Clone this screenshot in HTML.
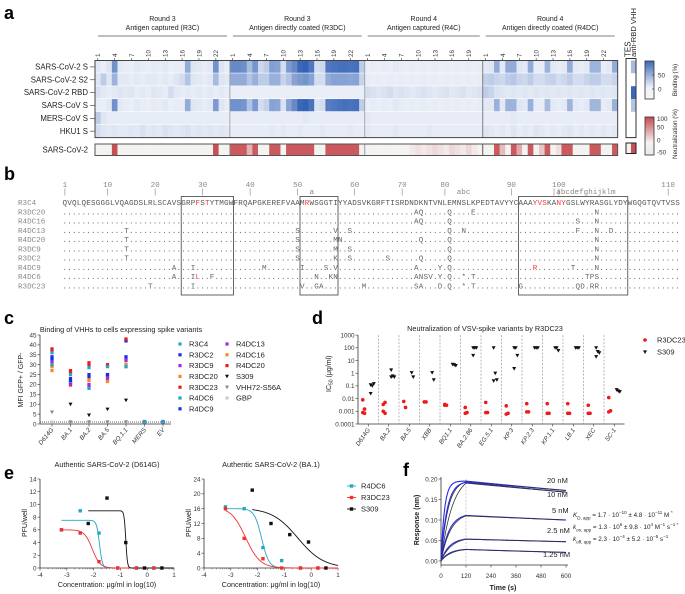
<!DOCTYPE html>
<html><head><meta charset="utf-8">
<style>
html,body{margin:0;padding:0;background:#fff;}
svg{display:block;font-family:"Liberation Sans",Arial,sans-serif;}
.pl{font-weight:bold;font-size:18px;fill:#000;}
.t7{font-size:7px;fill:#222;}
.t6{font-size:6.3px;fill:#333;}
.mono{font-family:"Liberation Mono",monospace;font-size:7.6px;fill:#666;}
#kin sup,#kin sub{line-height:0;font-size:4.5px;}
</style></head>
<body>
<svg id="fig" width="685" height="594" viewBox="0 0 685 594">
<text class="pl" x="4" y="19">a</text>
<text class="pl" x="4" y="180">b</text>
<text class="pl" x="4" y="324">c</text>
<text class="pl" x="312" y="324">d</text>
<text class="pl" x="4" y="479">e</text>
<text class="pl" x="403" y="476">f</text>
<g id="ga"></g>
<g id="gb"></g>
<g id="gc"></g>
<g id="gd"></g>
<g id="ge"></g>
<g id="gf"></g>
</svg>
<script>
// ===== Panel a data =====
const hmRows=["SARS-CoV-2 S","SARS-CoV-2 S2","SARS-CoV-2 RBD","SARS-CoV S","MERS-CoV S","HKU1 S"];
const hmGroups=["R3C","R3DC","R4C","R4DC"];
const hmGroupTitle1=["Round 3","Round 3","Round 4","Round 4"];
const hmGroupTitle2=["Antigen captured (R3C)","Antigen directly coated (R3DC)","Antigen captured (R4C)","Antigen directly coated (R4DC)"];
const hmGroupSize=[24,24,21,24];
const bindS=[8,5,10,60,8,6,5,8,6,5,7,6,8,5,6,6,45,10,8,6,8,60,10,6,
 65,65,62,35,58,18,25,52,50,15,55,65,85,88,75,15,18,75,78,80,80,78,80,25,
 5,6,5,6,5,8,6,5,6,5,6,5,6,5,6,5,6,5,6,5,6,
 8,10,45,8,45,45,10,8,45,6,6,40,8,6,8,45,8,6,8,40,40,6,8,45];
const bindS2=[10,25,10,40,8,8,6,8,6,8,8,6,8,6,10,15,30,10,8,6,8,35,10,8,
 45,45,45,30,42,25,25,42,42,20,30,50,55,58,50,15,15,45,50,50,50,48,50,20,
 6,5,6,5,6,5,6,5,6,5,6,5,6,5,6,5,6,5,6,5,6,
 22,25,20,18,25,28,20,18,25,15,15,20,22,15,18,25,15,15,20,25,25,15,15,20];
const bindRBD=[12,8,6,8,10,8,10,6,8,6,10,8,6,15,8,6,8,6,8,6,8,6,8,6,
 5,5,5,5,5,5,5,5,5,5,5,5,5,5,5,5,5,5,5,5,5,5,5,5,
 15,12,10,12,15,10,12,10,8,10,12,10,8,10,12,8,10,12,8,10,12,
 25,20,12,10,8,10,8,10,8,10,8,10,8,10,8,10,8,10,8,10,8,10,8,10];
const bindSC=[6,5,8,60,8,6,5,8,6,5,7,6,8,5,6,6,45,10,8,6,8,55,10,6,
 60,60,58,30,55,15,22,50,48,12,50,65,85,88,78,12,15,72,75,78,80,78,80,25,
 5,6,5,6,5,8,6,5,6,5,6,5,6,5,6,5,6,5,6,5,6,
 8,8,42,8,40,40,10,8,42,6,6,35,8,6,8,40,8,6,8,38,38,6,8,42];
const bindMERS=[25,10,6,6,6,6,6,6,6,6,6,6,6,6,6,6,6,6,6,6,6,6,6,6,
 6,6,6,6,6,6,6,6,6,6,6,6,6,8,6,6,6,6,6,6,6,6,6,6,
 8,6,6,6,6,6,6,6,6,6,6,6,6,6,6,6,6,6,6,6,6,
 6,6,6,6,6,8,6,6,6,6,6,6,6,6,6,6,6,6,6,6,6,6,6,6];
const bindHKU=[15,10,8,10,8,8,10,8,12,8,10,8,12,10,8,10,12,8,10,8,10,8,10,8,
 6,6,6,6,6,6,6,8,6,8,6,6,8,6,6,6,8,6,6,6,6,8,6,6,
 8,6,6,6,6,8,6,6,6,6,6,8,6,6,6,6,6,6,6,6,6,
 10,8,6,8,6,10,6,8,6,10,8,6,8,6,8,10,6,8,6,8,6,8,6,8];
const hmBind=[bindS,bindS2,bindRBD,bindSC,bindMERS,bindHKU];
const hmNeut=[-10,-10,-10,90,-10,-10,-10,-10,-10,-10,-10,-10,-10,-10,-10,-10,-10,-10,-10,-10,-10,90,-10,-10,
 85,85,85,35,85,-10,-10,85,85,-10,85,85,85,85,85,-10,-10,85,85,85,85,85,85,-10,
 -10,-5,0,-5,-5,0,-5,-5,5,10,5,10,15,10,5,15,10,5,15,5,-5,
 -10,-10,85,30,-10,85,40,-10,85,-10,25,85,-10,10,85,85,-10,-10,-10,85,85,-10,-10,85];
const tesBind=[0,0,0,0,0,0];
const rbdVhhBind=[35,5,85,30,5,5];
const tesNeut=[-5];
const rbdVhhNeut=[90];

// ===== Panel b data =====
const seqRef="QVQLQESGGGLVQAGDSLRLSCAVSGRPFSTYTMGWFRQAPGKEREFVAAMRWSGGTIYYADSVKGRFTISRDNDKNTVNLEMNSLKPEDTAVYYCAAAYVSKANYGSLWYRASGLYDYWGQGTQVTVSS";
const seqNames=["R3C4","R3DC20","R4DC16","R4DC13","R4DC20","R3DC9","R3DC2","R4DC9","R4DC6","R3DC23"];
const seqMuts=[
 [],
 [[74,"A"],[75,"Q"],[81,"Q"],[86,"E"],[112,"N"]],
 [[74,"A"],[75,"Q"],[81,"Q"],[108,"S"],[112,"N"]],
 [[13,"T"],[49,"S"],[57,"V"],[60,"S"],[81,"Q"],[84,"N"],[108,"F"],[112,"N"],[115,"D"]],
 [[13,"T"],[49,"S"],[57,"M"],[58,"N"],[75,"Q"],[81,"Q"],[112,"N"]],
 [[13,"T"],[49,"S"],[57,"M"],[60,"S"],[81,"Q"],[112,"N"]],
 [[13,"T"],[49,"S"],[57,"K"],[60,"S"],[68,"S"],[75,"Q"],[81,"Q"],[112,"N"]],
 [[23,"A"],[27,"I"],[42,"M"],[50,"I"],[55,"S"],[57,"V"],[74,"A"],[79,"Y"],[81,"Q"],[99,"R"],[107,"T"],[112,"N"]],
 [[23,"A"],[27,"I"],[28,"L"],[31,"F"],[53,"N"],[56,"K"],[57,"N"],[74,"A"],[75,"N"],[76,"S"],[77,"V"],[79,"Y"],[81,"Q"],[84,"*"],[86,"T"],[110,"T"],[111,"P"],[112,"S"]],
 [[18,"T"],[27,"I"],[50,"V"],[53,"G"],[54,"A"],[63,"M"],[74,"S"],[75,"A"],[79,"D"],[81,"Q"],[84,"*"],[86,"T"],[96,"G"],[108,"Q"],[109,"D"],[111,"R"],[112,"R"]]];
const seqRedRef=[28,30,51,99,100,101,104,105];
const seqRedMut=[[7,99],[8,28]];
const rulerLabels=["1","10","20","30","40","50","60","70","80","90","100","110"];
const rulerPos=[0,9,19,29,39,49,61,71,80,94,104,127];
const rulerIns=["a","abc","|abcdefghijklm"];
const rulerInsPos=[52,83,103];
const cdrBoxes=[[25,36],[50,58],[96,119]];

// ===== Panel c data =====
const cVariants=["D614G","BA.1","BA.2","BA.5","BQ.1.1","MERS","EV"];
const cVhhs=["R3C4","R3DC2","R3DC9","R3DC20","R3DC23","R4DC6","R4DC9","R4DC13","R4DC16","R4DC20","S309","VHH72-S56A","GBP"];
const cColors=["#1fa9c4","#1f2de0","#a02be0","#f78a1e","#ee1c1c","#1fa9c4","#1f2de0","#a02be0","#f78a1e","#ee1c1c","#111","#888","#ccc"];
const vR3C4=[36,25,28.5,29,29,1,1];
const vR3DC2=[33,22,24,25,34,1,1];
const vR3DC9=[32,20,20,24,33,1,1];
const vR3DC20=[27,19.5,23,21.5,30,1,1];
const vR3DC23=[38,27,31,30,43,1,1];
const vR4DC6=[30,21,18,24,29,1.3,1.3];
const vR4DC9=[34,23,25,25,42,1,1];
const vR4DC13=[31,21,19,23,32,1,1];
const vR4DC16=[29,20,22,22,30,1,1];
const vR4DC20=[37,26,30,29.5,42,1,1];
const vS309=[29,10,4.5,7.5,12,null,null];
const vVHH72=[6,1,1,1,1,null,null];
const vGBP=[1,1,1,1,1,null,null];
const cValues=[vR3C4,vR3DC2,vR3DC9,vR3DC20,vR3DC23,vR4DC6,vR4DC9,vR4DC13,vR4DC16,vR4DC20,vS309,vVHH72,vGBP];
const cTicks=[0,5,10,15,20,25,30,35,40,45];

// ===== Panel d data =====
const dVariants=["D614G","BA.2","BA.5","XBB","BQ1.1","BA.2.86","EG.5.1","KP.3","KP.2.3","KP.1.1","LB.1","XEC","SC-1"];
const dR3DC23=[[0.008,0.0015,0.0008,0.0007],[0.0035,0.005,0.001,0.0007],[0.006,0.002],[0.0055,0.0055],[0.0035,0.003,0.003],[0.002,0.0008,0.0007],[0.005,0.0008,0.0008],[0.0027,0.0007,0.0006],[0.004,0.0009,0.0009],[0.004,0.0007,0.0007],[0.004,0.0007,0.0007],[0.003,0.0007,0.0007],[0.012,0.0011,0.0009]];
const dS309=[[0.025,0.1,0.15,0.12],[1.8,0.6,0.5,0.5],[1.1,0.5],[1.1,0.3],[5,4.5,4],[100,100,100,25],[100,1,0.3,0.25],[100,100,25,2.3],[100,100,100],[100,100,60],[100,100,100],[100,50,40,20],[0.05,0.04,0.035]];
const dTicks=["0.0001","0.001","0.01","0.1","1","10","100","1000"];

// ===== Panel e data =====
const eX1=[-3.2,-2.5,-1.8,-1.1,-0.4,0.25];
const eR4DC6_1=[6,9,5.5,0,0,0];
const eR3DC23_1=[6,5.5,1,0,0,0];
const eS309x_1=[-2.2,-1.5,-0.8,-0.1,0.55];
const eS309_1=[7,11,4,0,0];
const eR4DC6_2=[16.5,16,5.5,2,0,0];
const eR3DC23_2=[16,8,2.5,0,0,0];
const eS309_2=[21,12,9,7,0];
const eFitTop=[[7.5,6,9],[16,16.5,16.2]];
const eFitIC=[[-1.78,-2.05,-0.8],[-1.85,-2.45,-0.5]];
const eFitHill=[[8,3,14],[3.2,1.6,0.9]];
const eYTicks1=[0,2,4,6,8,10,12,14];
const eYTicks2=[0,4,8,12,16,20,24];
const eXTicks=[-4,-3,-2,-1,0,1];

// ===== Panel f data =====
const fConc=["20 nM","10 nM","5 nM","2.5 nM","1.25 nM"];
const fPlateau=[0.193,0.19,0.11,0.053,0.028];
const fEnd=[0.172,0.168,0.1,0.047,0.021];
const fKfit=[0.03,0.018,0.022,0.02,0.02];
const fKobs=[0.06,0.035,0.026,0.025,0.025];
const fXTicks=[0,120,240,360,480,600];
const fYTicks=[0,0.05,0.1,0.15,0.2];

// ===== helpers =====
const NS='http://www.w3.org/2000/svg';
function mk(tag,a,p){const e=document.createElementNS(NS,tag);for(const k in a)e.setAttribute(k,a[k]);p.appendChild(e);return e;}
function tx(s,x,y,a,p){const e=mk('text',Object.assign({x:x,y:y},a||{}),p);e.textContent=s;return e;}
function lerp(a,b,t){return a.map((v,i)=>Math.round(v+(b[i]-v)*t));}
function bindColor(v){const t=Math.max(0,Math.min(1,v/90));return 'rgb('+lerp([244,246,251],[47,95,180],t).join(',')+')';}
function neutColor(v){if(v<0){const t=Math.min(1,-v/50);return 'rgb('+lerp([246,244,243],[232,238,232],t).join(',')+')';}const t=Math.min(1,v/90);return 'rgb('+lerp([246,242,242],[200,80,84],t).join(',')+')';}

// ===== Panel a =====
(function(){
const g=document.getElementById('ga');
const x0=95,cw=5.62,y0=60.5,rh=12.85,ny0=144,nh=11.5;
let col=0;
hmGroups.forEach((gname,gi)=>{
  const gx=x0+col*cw, gw=hmGroupSize[gi]*cw;
  let t=tx(hmGroupTitle1[gi],gx+gw/2,21,{'text-anchor':'middle',class:'t7'},g);
  
  
  t=tx(hmGroupTitle2[gi],gx+gw/2,30,{'text-anchor':'middle',class:'t7'},g);
  
  
  const ln=mk('line',{x1:gx+3,x2:gx+gw-3,y1:36,y2:36,stroke:'#555','stroke-width':0.8},g);
  
  
  for(let k=0;k<hmGroupSize[gi];k+=3){
    const cx=gx+(k+0.5)*cw;
    const lab=tx(String(k+1),cx+2.3,57,{'text-anchor':'start',class:'t6',transform:'rotate(-90 '+(cx+2.3)+' 57)'},g);
    
    
    const tk=mk('line',{x1:cx,x2:cx,y1:58,y2:60.5,stroke:'#333','stroke-width':0.6},g);
    
    
  }
  col+=hmGroupSize[gi];
});
const ncol=col;
hmBind.forEach((row,ri)=>{
  row.forEach((v,ci)=>{
    const r=mk('rect',{x:x0+ci*cw,y:y0+ri*rh,width:cw+0.3,height:rh-0.6,fill:bindColor(v)},g);
    
    
  });
  const lab=tx(hmRows[ri],88,y0+ri*rh+rh/2+2.6,{'text-anchor':'end',class:'t7',style:'font-size:7.8px'},g);
  
  
  const tk=mk('line',{x1:90,x2:95,y1:y0+ri*rh+rh/2,y2:y0+ri*rh+rh/2,stroke:'#333','stroke-width':0.6},g);
  
  
});
hmNeut.forEach((v,ci)=>{
  const r=mk('rect',{x:x0+ci*cw,y:ny0,width:cw+0.3,height:nh,fill:neutColor(v)},g);
  
  
});
let lab=tx("SARS-CoV-2",88,ny0+nh/2+2.6,{'text-anchor':'end',class:'t7',style:'font-size:7.8px'},g);


[24,48,69].forEach((c,i)=>{
  const l=mk('line',{x1:x0+c*cw,x2:x0+c*cw,y1:y0,y2:y0+6*rh,stroke:i==2?'#666':'#999','stroke-width':0.8},g);
  
  
  const l2=mk('line',{x1:x0+c*cw,x2:x0+c*cw,y1:ny0,y2:ny0+nh,stroke:i==2?'#333':'#888','stroke-width':0.8},g);
  
  
});
let o=mk('rect',{x:x0,y:y0,width:ncol*cw,height:6*rh,fill:'none',stroke:'#444','stroke-width':1},g);


o=mk('rect',{x:x0,y:ny0,width:ncol*cw,height:nh,fill:'none',stroke:'#555','stroke-width':1},g);


const tx0=626,tw=5;
tesBind.forEach((v,ri)=>{
  let r=mk('rect',{x:tx0,y:y0+ri*rh,width:tw,height:rh,fill:v?bindColor(v):'#fff'},g);
  
  
  r=mk('rect',{x:tx0+tw,y:y0+ri*rh,width:tw,height:rh,fill:rbdVhhBind[ri]>8?bindColor(rbdVhhBind[ri]):'#fff'},g);
  
  
});
let r=mk('rect',{x:tx0,y:ny0-1,width:tw,height:nh-1,fill:neutColor(tesNeut[0])},g);


r=mk('rect',{x:tx0+tw,y:ny0-1,width:tw,height:nh-1,fill:neutColor(rbdVhhNeut[0])},g);


o=mk('rect',{x:tx0,y:y0-2,width:2*tw,height:6*rh+2,fill:'none',stroke:'#333','stroke-width':1},g);


o=mk('rect',{x:tx0,y:ny0-1,width:2*tw,height:nh-1,fill:'none',stroke:'#222','stroke-width':1},g);


lab=tx("TES",tx0+4.6,57,{class:'t7',style:'font-size:8px',transform:'rotate(-90 '+(tx0+4.6)+' 57)'},g);


lab=tx("anti-RBD VHH",tx0+10,57,{class:'t7',style:'font-size:7.6px',transform:'rotate(-90 '+(tx0+10)+' 57)'},g);


const defs=mk('defs',{},g);
const lg1=mk('linearGradient',{id:'gb1',x1:0,y1:1,x2:0,y2:0},defs);
mk('stop',{offset:'0','stop-color':'#f6f7fb'},lg1);mk('stop',{offset:'0.3','stop-color':'#eef1f8'},lg1);mk('stop',{offset:'1','stop-color':'#3a68b8'},lg1);
const lg2=mk('linearGradient',{id:'gb2',x1:0,y1:1,x2:0,y2:0},defs);
mk('stop',{offset:'0','stop-color':'#e6ece6'},lg2);mk('stop',{offset:'0.33','stop-color':'#f6f2f2'},lg2);mk('stop',{offset:'1','stop-color':'#c44a4e'},lg2);
let cb=mk('rect',{x:645,y:61,width:9,height:38,fill:'url(#gb1)',stroke:'#333','stroke-width':0.8},g);


cb=mk('rect',{x:645,y:117,width:9,height:38,fill:'url(#gb2)',stroke:'#333','stroke-width':0.8},g);


[["50",75],["0",89]].forEach(d=>{const t=tx(d[0],658,d[1]+2.3,{class:'t6'},g);const l=mk('line',{x1:652,x2:654,y1:d[1],y2:d[1],stroke:'#333','stroke-width':0.6},g);});
[["100",118.5],["50",127],["0",140],["-50",152]].forEach(d=>{const t=tx(d[0],657,d[1]+2.3,{class:'t6'},g);});
lab=tx("Binding (%)",677,80,{class:'t6','text-anchor':'middle',transform:'rotate(-90 677 80)'},g);


lab=tx("Neutralization (%)",677,134,{class:'t6','text-anchor':'middle',transform:'rotate(-90 677 134)'},g);


})();

// ===== Panel b =====
(function(){
const g=document.getElementById('gb');
const sx=62.5,cw=4.75,yc=202.5,dy=9.26;
const xs=i=>sx+i*cw;
rulerLabels.forEach((s,i)=>{
  let t=tx(s,xs(rulerPos[i])+cw/2,187,{class:'mono','text-anchor':'middle',style:'fill:#888'},g);
  
  
  t=tx("|",xs(rulerPos[i])+cw/2,194,{class:'mono','text-anchor':'middle',style:'fill:#888'},g);
  
  
});
rulerIns.forEach((s,i)=>{
  const t=tx(s,xs(rulerInsPos[i]),194,{class:'mono',style:'fill:#888'},g);
  
  
});
seqNames.forEach((nm,ri)=>{
  const y=yc+ri*dy+2.6;
  let chars;
  if(ri===0)chars=seqRef.split('');
  else{chars=seqRef.split('').map(()=>'.');seqMuts[ri].forEach(m=>{chars[m[0]]=m[1];});}
  const l=tx(nm,18,y,{class:'mono',style:'fill:#888'},g);
  
  
  const xl=chars.map((c,i)=>(xs(i)).toFixed(2)).join(' ');
  const t=tx(chars.join(''),0,y,{class:'mono',style:'fill:'+(ri===0?'#555':'#666')},g);
  t.setAttribute('x',xl);
  
  
});
seqRedRef.forEach(i=>{
  const b=mk('rect',{x:xs(i)-0.2,y:yc-3.5,width:cw,height:7.5,fill:'#fff'},g);
  
  
  const t=tx(seqRef[i],xs(i),yc+2.6,{class:'mono',style:'fill:#f03c3c'},g);
  
  
});
seqRedMut.forEach(m=>{
  const ch=seqMuts[m[0]].find(z=>z[0]===m[1])[1];
  const y=yc+m[0]*dy;
  const b=mk('rect',{x:xs(m[1])-0.2,y:y-3.5,width:cw,height:7.5,fill:'#fff'},g);
  
  
  const t=tx(ch,xs(m[1]),y+2.6,{class:'mono',style:'fill:#f03c3c'},g);
  
  
});
cdrBoxes.forEach((b,i)=>{
  const r=mk('rect',{x:xs(b[0]),y:196.5,width:(b[1]-b[0])*cw,height:98.5,fill:'none',stroke:'#555','stroke-width':0.9},g);
  
  
});
})();

// ===== Panel c =====
(function(){
const g=document.getElementById('gc');
const ax=40,yb=424,yt=335,ymax=45;
const y=v=>yb-(v/ymax)*(yb-yt);
const x=i=>52+i*18.5;
let t=tx("Binding of VHHs to cells expressing spike variants",121,332,{class:'t7','text-anchor':'middle',style:'font-size:7.3px'},g);


let l=mk('line',{x1:ax,x2:ax,y1:yt,y2:yb,stroke:'#333','stroke-width':0.8},g);


l=mk('line',{x1:ax,x2:171,y1:yb,y2:yb,stroke:'#333','stroke-width':0.8},g);


l=mk('line',{x1:ax,x2:171,y1:y(1),y2:y(1),stroke:'#333','stroke-width':0.8,'stroke-dasharray':'1 1'},g);


cTicks.forEach(v=>{
  const tk=mk('line',{x1:ax-2.5,x2:ax,y1:y(v),y2:y(v),stroke:'#333','stroke-width':0.6},g);
  
  
  const tl=tx(String(v),ax-3.5,y(v)+2.3,{class:'t6','text-anchor':'end'},g);
  
  
});
t=tx("MFI GFP+ / GFP-",23,380,{class:'t7','text-anchor':'middle',transform:'rotate(-90 23 380)'},g);


cVariants.forEach((s,i)=>{
  const tk=mk('line',{x1:x(i),x2:x(i),y1:yb,y2:yb+2.5,stroke:'#333','stroke-width':0.6},g);
  
  
  const tl=tx(s,x(i)+2,yb+6,{class:'t6','text-anchor':'end',style:'font-style:italic',transform:'rotate(-50 '+(x(i)+2)+' '+(yb+6)+')'},g);
  
  
});
function marker(i,cx,cy,p){
  if(i===10||i===11){const s=2;return mk('path',{d:`M${cx-s},${cy-s*0.8} L${cx+s},${cy-s*0.8} L${cx},${cy+s}Z`,fill:cColors[i]},p);}
  return mk('rect',{x:cx-1.6,y:cy-1.6,width:3.2,height:3.2,fill:cColors[i]},p);
}
cValues.slice().reverse().forEach((arr,ri)=>{
  const i=cValues.length-1-ri;
  arr.forEach((v,vi)=>{
    if(v===null)return;
    const m=marker(i,x(vi),y(v),g);
    
    
  });
});
cVhhs.forEach((s,i)=>{
  const col=i<7?0:1,row=i<7?i:i-7;
  const mx=col?227:180,my=344+row*10.8;
  const m=marker(i,mx,my,g);
  
  
  const tl=tx(s,mx+9,my+2.6,{class:'t7',style:'font-size:7.5px'},g);
  
  
});
})();

// ===== Panel d =====
(function(){
const g=document.getElementById('gd');
const ax=358,yb=424,dec=12.7,cw=20.5;
const y=v=>yb-(Math.log10(v)+4)*dec;
const x=i=>ax+(i+0.5)*cw;
let t=tx("Neutralization of VSV-spike variants by R3DC23",485,331,{class:'t7','text-anchor':'middle',style:'font-size:7.3px'},g);


let l=mk('line',{x1:ax,x2:ax,y1:y(1000),y2:yb,stroke:'#333','stroke-width':0.8},g);


l=mk('line',{x1:ax,x2:ax+13*cw,y1:yb,y2:yb,stroke:'#333','stroke-width':0.8},g);


dTicks.forEach(s=>{
  const v=parseFloat(s);
  const tk=mk('line',{x1:ax-2.5,x2:ax,y1:y(v),y2:y(v),stroke:'#333','stroke-width':0.6},g);
  
  
  const tl=tx(s,ax-3.5,y(v)+2.3,{class:'t6','text-anchor':'end'},g);
  
  
});
t=tx("IC",331,392,{class:'t7','text-anchor':'start',transform:'rotate(-90 331 392)'},g);
const ts=mk('tspan',{style:'font-size:5px',dy:'1.5'},t);ts.textContent='50';
const ts2=mk('tspan',{dy:'-1.5'},t);ts2.textContent=' (μg/ml)';


dVariants.forEach((s,i)=>{
  if(i>0){const sp=mk('line',{x1:ax+i*cw,x2:ax+i*cw,y1:y(1000),y2:yb,stroke:'#888','stroke-width':0.6,'stroke-dasharray':'2 1.5'},g);
  
  }
  const tk=mk('line',{x1:x(i),x2:x(i),y1:yb,y2:yb+2.5,stroke:'#333','stroke-width':0.6},g);
  
  
  const tl=tx(s,x(i)+2,yb+6,{class:'t6','text-anchor':'end',style:'font-style:italic',transform:'rotate(-55 '+(x(i)+2)+' '+(yb+6)+')'},g);
  
  
  dR3DC23[i].forEach((v,k)=>{
    const c=mk('circle',{cx:x(i)-5.5+(k%2)*1.8,cy:y(v),r:1.8,fill:'#f01818'},g);
    
    
  });
  dS309[i].forEach((v,k)=>{
    const cx=x(i)+4+(k%3-1)*1.6,cy=y(v),s=2;
    const p=mk('path',{d:`M${cx-s},${cy-s*0.8} L${cx+s},${cy-s*0.8} L${cx},${cy+s}Z`,fill:'#111'},g);
    
    
  });
});
let c=mk('circle',{cx:645,cy:340,r:1.8,fill:'#f01818'},g);


t=tx("R3DC23",657,342.6,{class:'t7',style:'font-size:7.5px'},g);


c=mk('path',{d:'M643,350.4 L647,350.4 L645,354Z',fill:'#111'},g);


t=tx("S309",657,354.6,{class:'t7',style:'font-size:7.5px'},g);


})();

// ===== Panel e =====
(function(){
const g=document.getElementById('ge');
const plots=[{x0:40,ymax:14,ticks:eYTicks1,title:"Authentic SARS-CoV-2 (D614G)",data:[eR4DC6_1,eR3DC23_1,eS309_1]},
             {x0:204,ymax:24,ticks:eYTicks2,title:"Authentic SARS-CoV-2 (BA.1)",data:[eR4DC6_2,eR3DC23_2,eS309_2]}];
const cols=["#23a7c2","#f23030","#111"];
const names=["R4DC6","R3DC23","S309"];
const yb=568,yt=479,ux=26.8;
plots.forEach((P,pi)=>{
  const x=v=>P.x0+(v+4)*ux;
  const y=v=>yb-v/P.ymax*(yb-yt);
  let t=tx(P.title,x(-1.5),467,{class:'t7','text-anchor':'middle',style:'font-size:7.3px'},g);
  
  
  let l=mk('line',{x1:P.x0,x2:P.x0,y1:yt,y2:yb,stroke:'#333','stroke-width':0.8},g);
  
  
  l=mk('line',{x1:P.x0,x2:x(1),y1:yb,y2:yb,stroke:'#333','stroke-width':0.8},g);
  
  
  P.ticks.forEach(v=>{
    const tk=mk('line',{x1:P.x0-2.5,x2:P.x0,y1:y(v),y2:y(v),stroke:'#333','stroke-width':0.6},g);
    
    
    const tl=tx(String(v),P.x0-3.5,y(v)+2.3,{class:'t6','text-anchor':'end'},g);
    
    
  });
  eXTicks.forEach(v=>{
    const tk=mk('line',{x1:x(v),x2:x(v),y1:yb,y2:yb+2.5,stroke:'#333','stroke-width':0.6},g);
    
    
    const tl=tx(String(v),x(v),yb+9,{class:'t6','text-anchor':'middle'},g);
    
    
    if(v<1){for(let m=2;m<10;m++){const xm=x(v+Math.log10(m));const mt=mk('line',{x1:xm,x2:xm,y1:yb,y2:yb+1.3,stroke:'#333','stroke-width':0.4},g);}}
  });
  t=tx("PFU/well",P.x0-13,523,{class:'t7','text-anchor':'middle',transform:'rotate(-90 '+(P.x0-13)+' 523)'},g);
  
  
  t=tx("Concentration: μg/ml in log(10)",x(-1.5),587,{class:'t7','text-anchor':'middle',style:'font-size:7.2px'},g);
  
  
  for(let s=0;s<3;s++){
    const top=eFitTop[pi][s],ic=eFitIC[pi][s],h=eFitHill[pi][s];
    const start=s===2?-2.2:-3.2;
    let d='';
    for(let k=0;k<=200;k++){const xv=start+(1-start)*k/200;const yv=top/(1+Math.pow(10,(xv-ic)*h));d+=(k?'L':'M')+x(xv).toFixed(2)+','+y(yv).toFixed(2);}
    const p=mk('path',{d:d,fill:'none',stroke:cols[s],'stroke-width':0.9},g);
    
    
  }
  P.data.forEach((arr,s)=>{
    const xsr=s===2?eS309x_1:eX1;
    arr.forEach((v,k)=>{
      const r=mk('rect',{x:x(xsr[k])-1.7,y:y(v)-1.7,width:3.4,height:3.4,fill:cols[s]},g);
      
      
    });
  });
});
names.forEach((n,i)=>{
  const yy=486+i*11.5;
  const l=mk('line',{x1:347,x2:356,y1:yy,y2:yy,stroke:cols[i],'stroke-width':0.9},g);
  
  
  const r=mk('rect',{x:349.8,y:yy-1.7,width:3.4,height:3.4,fill:cols[i]},g);
  
  
  const t=tx(n,361,yy+2.6,{class:'t7',style:'font-size:7.5px'},g);
  
  
});
})();

// ===== Panel f =====
(function(){
const g=document.getElementById('gf');
const ax=441,yb=561,yt=479;
const x=t=>ax+t*(125/600);
const y=r=>yb-r/0.2*(yb-yt);
let l=mk('line',{x1:ax,x2:ax,y1:yt-2,y2:yb+4,stroke:'#333','stroke-width':0.8},g);


l=mk('line',{x1:ax,x2:x(600)+2,y1:yb+4,y2:yb+4,stroke:'#333','stroke-width':0.8},g);


fYTicks.forEach(v=>{
  const tk=mk('line',{x1:ax-2.5,x2:ax,y1:y(v),y2:y(v),stroke:'#333','stroke-width':0.6},g);
  
  
  const tl=tx(v.toFixed(2),ax-3.5,y(v)+2.3,{class:'t6','text-anchor':'end'},g);
  
  
});
fXTicks.forEach(v=>{
  const tk=mk('line',{x1:x(v),x2:x(v),y1:yb+4,y2:yb+6.5,stroke:'#333','stroke-width':0.6},g);
  
  
  const tl=tx(String(v),x(v),578,{class:'t6','text-anchor':'middle'},g);
  
  
});
l=mk('line',{x1:x(120),x2:x(120),y1:yt,y2:yb+4,stroke:'#bbb','stroke-width':0.7,'stroke-dasharray':'2 1.5'},g);


let t=tx("Response (nm)",419,520,{class:'t7','text-anchor':'middle',style:'font-weight:bold',transform:'rotate(-90 419 520)'},g);


t=tx("Time (s)",503,590,{class:'t7','text-anchor':'middle',style:'font-weight:bold'},g);


function trace(P,E,k){
  const kd=Math.log(P/E)/480;let d='';
  for(let t=0;t<=600;t+=4){let r;if(t<=120)r=P*(1-Math.exp(-k*t))/(1-Math.exp(-k*120));else r=P*Math.exp(-kd*(t-120));d+=(t?'L':'M')+x(t).toFixed(2)+','+y(r).toFixed(2);}
  return d;
}
fConc.forEach((c,i)=>{
  const pb=mk('path',{d:trace(fPlateau[i]*1.01,fEnd[i],fKobs[i]),fill:'none',stroke:'#2a2ae6','stroke-width':1.1},g);
  
  
  const pf=mk('path',{d:trace(fPlateau[i],fEnd[i],fKfit[i]),fill:'none',stroke:'#333','stroke-width':0.8},g);
  
  
});
const labY=[483,497,513,533,557];
const labX=[547,547,552,547,543];
fConc.forEach((c,i)=>{
  const tl=tx(c,labX[i],labY[i],{class:'t7',style:'font-size:7.5px'},g);
  
  
});
})();
</script>
<div id="kin" style="position:absolute;left:573px;top:510px;font:6.3px 'Liberation Sans',sans-serif;color:#222;line-height:12px;white-space:nowrap">
<div><i>K</i><sub>D, app</sub> = 1.7 · 10<sup>−10</sup> ± 4.8 · 10<sup>−11</sup> M <sup>*</sup></div>
<div><i>k</i><sub>on, app</sub> = 1.3 · 10<sup>6</sup> ± 9.8 · 10<sup>4</sup> M<sup>−1</sup> s<sup>−1 *</sup></div>
<div><i>k</i><sub>off, app</sub> = 2.3 · 10<sup>−4</sup> ± 5.2 · 10<sup>−5</sup> s<sup>−1</sup></div>
</div>
</body></html>
